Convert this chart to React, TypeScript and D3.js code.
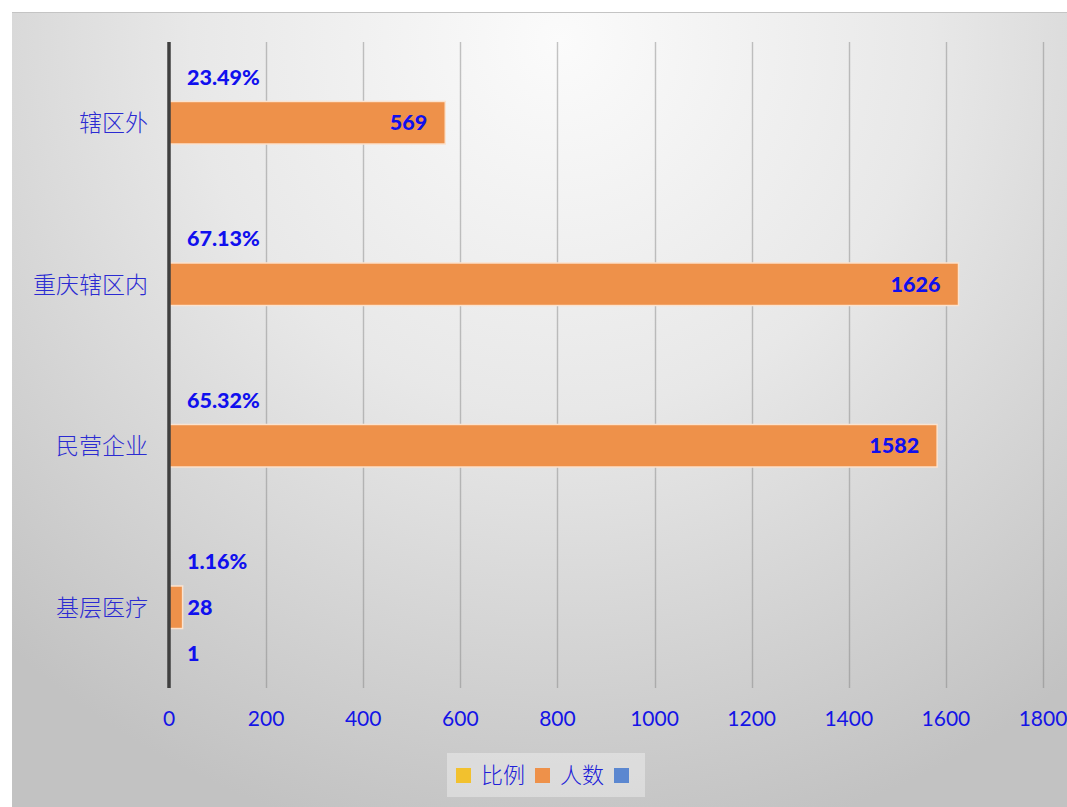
import React, { useEffect, useRef } from 'react';
import * as d3 from 'd3';

// categories listed top to bottom as they appear
const categories = ['辖区外', '重庆辖区内', '民营企业', '基层医疗'];
const seriesNames = ['比例', '人数', ''];
const ratioValues = [0.2349, 0.6713, 0.6532, 0.0116];
const countValues = [569, 1626, 1582, 28];
const thirdValues: (number | null)[] = [null, null, null, 1];
const xTicks = [0, 200, 400, 600, 800, 1000, 1200, 1400, 1600, 1800];
const seriesColors = ['#F2C12E', '#EE914A', '#5B87D0'];

const W = 1067;
const H = 807;

const App: React.FC = () => {
  const svgRef = useRef<SVGSVGElement>(null);

  useEffect(() => {
    document.body.style.margin = '0';
    if (!svgRef.current) return;
    const svg = d3.select(svgRef.current);
    svg.selectAll('*').remove();

    const plot = { left: 169, right: 1043, top: 42, bottom: 688 };

    // background panel with soft radial gradient
    const defs = svg.append('defs');
    const grad = defs.append('radialGradient')
      .attr('id', 'bg')
      .attr('gradientUnits', 'userSpaceOnUse')
      .attr('cx', 560).attr('cy', 40).attr('r', 820);
    grad.append('stop').attr('offset', 0).attr('stop-color', '#fbfbfb');
    grad.append('stop').attr('offset', 0.45).attr('stop-color', '#e8e8e8');
    grad.append('stop').attr('offset', 1).attr('stop-color', '#c2c2c2');

    svg.append('rect').attr('x', 0).attr('y', 0).attr('width', W).attr('height', H).attr('fill', '#fff');
    svg.append('rect')
      .attr('x', 12).attr('y', 12).attr('width', W - 12).attr('height', H - 12)
      .attr('fill', 'url(#bg)');
    svg.append('line').attr('x1', 12).attr('x2', W).attr('y1', 12.5).attr('y2', 12.5)
      .attr('stroke', '#c4c4c4').attr('stroke-width', 1);

    const x = d3.scaleLinear().domain([0, 1800]).range([plot.left, plot.right]);
    const y = d3.scaleBand<string>().domain(categories).range([plot.top, plot.bottom]).padding(0);
    const sub = d3.scaleBand<number>()
      .domain([0, 1, 2])
      .range([0, y.bandwidth()])
      .paddingInner(0.07)
      .paddingOuter(0.3);

    // gridlines
    svg.append('g').selectAll('line')
      .data(xTicks.slice(1))
      .join('line')
      .attr('x1', d => Math.round(x(d)) + 0.5).attr('x2', d => Math.round(x(d)) + 0.5)
      .attr('y1', plot.top).attr('y2', plot.bottom)
      .attr('stroke', '#7f7f7f').attr('stroke-opacity', 0.45).attr('stroke-width', 1.4);

    // tick labels
    svg.append('g').selectAll('text')
      .data(xTicks)
      .join('text')
      .attr('x', d => x(d))
      .attr('y', 719)
      .attr('dy', '0.35em')
      .attr('text-anchor', 'middle')
      .style('font-family', 'Lato, "Open Sans", sans-serif')
      .style('font-size', '21px')
      .attr('fill', '#1414e6')
      .text(d => String(d));

    // category labels
    svg.append('g').selectAll('text')
      .data(categories)
      .join('text')
      .attr('x', plot.left - 21)
      .attr('y', d => (y(d) ?? 0) + y.bandwidth() / 2)
      .attr('dy', '0.36em')
      .attr('text-anchor', 'end')
      .style('font-family', '"Noto Sans CJK SC", sans-serif')
      .style('font-size', '23px')
      .style('font-weight', '300')
      .attr('fill', '#2b2bd2')
      .text(d => d);

    const seriesData = [
      ratioValues.map(v => v as number | null),
      countValues.map(v => v as number | null),
      thirdValues,
    ];
    const fmt = [(v: number) => (v * 100).toFixed(2) + '%', (v: number) => String(v), (v: number) => String(v)];

    seriesData.forEach((vals, si) => {
      const g = svg.append('g');
      const rows = categories.map((c, i) => ({ c, v: vals[i] })).filter(d => d.v !== null) as { c: string; v: number }[];
      g.selectAll('rect')
        .data(rows)
        .join('rect')
        .attr('x', x(0))
        .attr('y', d => (y(d.c) ?? 0) + (sub(si) ?? 0))
        .attr('width', d => Math.max(0, x(d.v) - x(0)))
        .attr('height', sub.bandwidth())
        .attr('fill', seriesColors[si])
        .attr('stroke', si === 1 ? '#fbe3cf' : 'none')
        .attr('stroke-width', 1.5);

      g.selectAll('text')
        .data(rows)
        .join('text')
        .each(function (d) {
          const label = fmt[si](d.v);
          const end = x(d.v);
          const cy = (y(d.c) ?? 0) + (sub(si) ?? 0) + sub.bandwidth() / 2;
          const approxW = label.length * 12;
          const inside = end - x(0) > approxW + 30;
          d3.select(this)
            .attr('x', inside ? end - 18 : Math.max(end + 5, x(0) + 18))
            .attr('y', cy)
            .attr('dy', '0.36em')
            .attr('text-anchor', inside ? 'end' : 'start')
            .text(label);
        })
        .style('font-family', 'Lato, "Open Sans", sans-serif')
        .style('font-size', '21.5px')
        .style('font-weight', '900')
        .attr('fill', '#1010ee');
    });

    // axis line at zero
    svg.append('line')
      .attr('x1', x(0)).attr('x2', x(0))
      .attr('y1', plot.top).attr('y2', plot.bottom)
      .attr('stroke', '#3f3f3f').attr('stroke-width', 3.5);

    // legend
    const lg = svg.append('g');
    lg.append('rect').attr('x', 447).attr('y', 753).attr('width', 198).attr('height', 44)
      .attr('fill', '#ffffff').attr('fill-opacity', 0.35);
    const items = [
      { x: 456, name: seriesNames[0], color: seriesColors[0] },
      { x: 535, name: seriesNames[1], color: seriesColors[1] },
      { x: 614, name: seriesNames[2], color: seriesColors[2] },
    ];
    items.forEach(it => {
      lg.append('rect').attr('x', it.x).attr('y', 768).attr('width', 15).attr('height', 15)
        .attr('fill', it.color);
      if (it.name) {
        lg.append('text')
          .attr('x', it.x + 25)
          .attr('y', 775.5)
          .attr('dy', '0.36em')
          .style('font-family', '"Noto Sans CJK SC", sans-serif')
          .style('font-size', '22px')
          .style('font-weight', '300')
          .attr('fill', '#2020d8')
          .text(it.name);
      }
    });
  }, []);

  return (
    <svg
      ref={svgRef}
      width={W}
      height={H}
      viewBox={`0 0 ${W} ${H}`}
      style={{ position: 'absolute', left: 0, top: 0, display: 'block' }}
    />
  );
};

export default App;
